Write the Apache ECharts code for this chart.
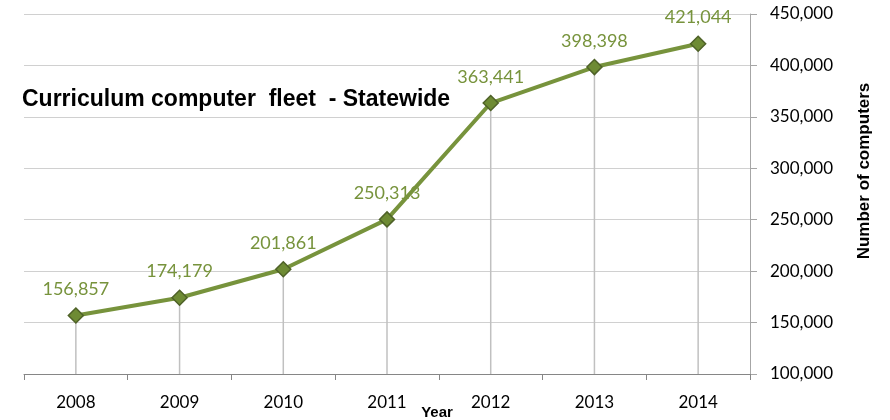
<!DOCTYPE html>
<html lang="en">
<head>
    <meta charset="UTF-8">
    <title>Curriculum computer fleet</title>
    <style>
        html, body { margin: 0; padding: 0; background: #fff; }
        #main { width: 890px; height: 420px; }
    </style>
</head>
<body>
<div id="main"></div>
<script src="https://cdn.jsdelivr.net/npm/echarts@6/dist/echarts.min.js"></script>
<script>
    const years = ['2008', '2009', '2010', '2011', '2012', '2013', '2014'];
    const computers = [156857, 174179, 201861, 250313, 363441, 398398, 421044];
    const yTicks = { min: 100000, max: 450000, step: 50000 };

    const green = '#77933C';
    const fmt = v => v.toLocaleString('en-US');
    const txtFont = 'Lato, "Open Sans", sans-serif';
    const boldFont = '"Liberation Sans", Arial, sans-serif';

    const myChart = echarts.init(document.getElementById('main'));

    const option = {
        animation: false,
        title: {
            text: 'Curriculum computer  fleet  - Statewide',
            left: 17,
            top: 83,
            textStyle: {
                fontFamily: boldFont,
                fontWeight: 'bold',
                fontSize: 23,
                color: '#000'
            }
        },
        grid: { left: 24, right: 140, top: 14, bottom: 46, outerBoundsMode: 'none' },
        xAxis: {
            type: 'category',
            data: years,
            boundaryGap: true,
            name: 'Year',
            nameLocation: 'middle',
            nameGap: 31,
            nameMoveOverlap: false,
            nameTextStyle: {
                fontFamily: boldFont,
                fontWeight: 'bold', fontSize: 15, color: '#000',
                padding: [0, 0, 0, 100]
            },
            axisLine: { lineStyle: { color: '#868686', width: 1 } },
            axisTick: { show: true, length: 6, alignWithLabel: false, lineStyle: { color: '#868686' } },
            axisLabel: { fontFamily: txtFont, fontSize: 17, color: '#000', margin: 20 },
            splitLine: { show: false }
        },
        yAxis: {
            type: 'value',
            position: 'right',
            min: yTicks.min,
            max: yTicks.max,
            interval: yTicks.step,
            name: 'Number of computers',
            nameLocation: 'middle',
            nameRotate: 90,
            nameGap: 106,
            nameMoveOverlap: false,
            nameTextStyle: {
                fontFamily: boldFont,
                fontWeight: 'bold', fontSize: 17, color: '#000',
                padding: [0, 0, 0, 46]
            },
            axisLine: { show: true, lineStyle: { color: '#a6a6a6', width: 1 } },
            axisTick: { show: true, length: 7, inside: false, lineStyle: { color: '#a6a6a6' } },
            axisLabel: { fontFamily: txtFont, fontSize: 17, color: '#000', margin: 20, formatter: fmt },
            splitLine: { show: true, lineStyle: { color: '#d0d0d0', width: 1 } }
        },
        series: [
            {
                type: 'bar',
                data: computers,
                barWidth: 1.5,
                itemStyle: { color: '#c0c0c0' },
                silent: true,
                z: 1
            },
            {
                type: 'line',
                data: computers,
                symbol: 'diamond',
                symbolSize: 15,
                lineStyle: { color: green, width: 4 },
                itemStyle: { color: '#6E8B34', borderColor: '#4F6228', borderWidth: 1.5 },
                label: {
                    show: true,
                    position: 'top',
                    distance: 9,
                    fontFamily: txtFont,
                    fontSize: 18,
                    color: green,
                    formatter: p => fmt(p.value)
                },
                z: 3
            }
        ]
    };

    myChart.setOption(option);
</script>
</body>
</html>
